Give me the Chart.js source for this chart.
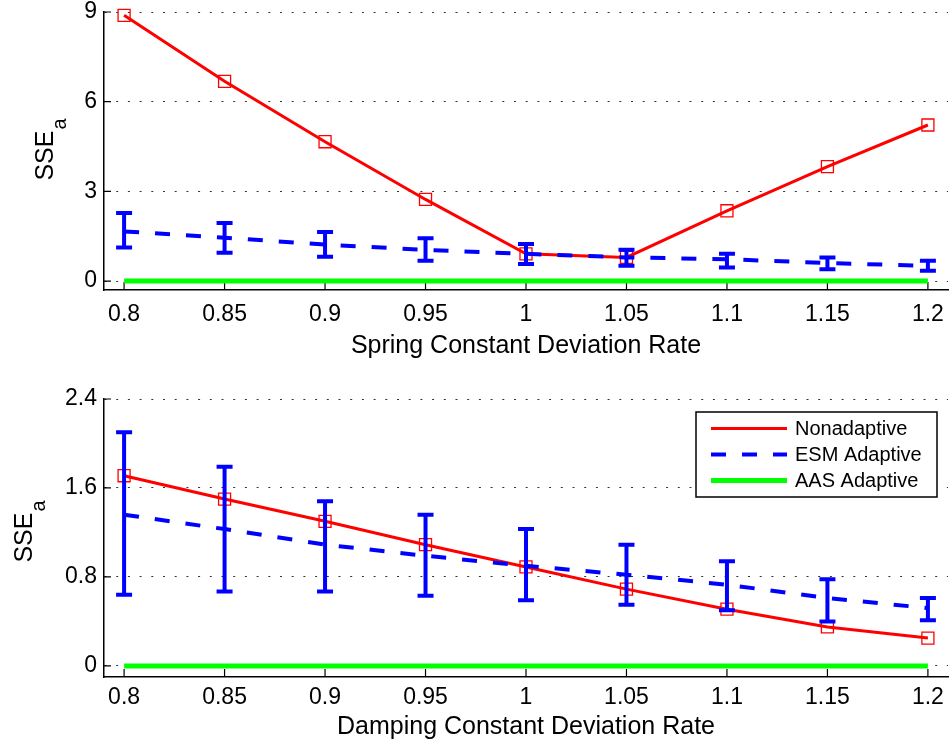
<!DOCTYPE html>
<html>
<head>
<meta charset="utf-8">
<script src="https://cdn.jsdelivr.net/npm/chart.js@4.4.1/dist/chart.umd.min.js"></script>
<style>
  html, body { margin: 0; padding: 0; background: #fff; }
  #wrap { position: relative; width: 952px; height: 749px; }
  .panel { position: absolute; left: 0; width: 952px; }
  #springPanel { top: 0; height: 374px; }
  #dampPanel { top: 374px; height: 375px; }
</style>
</head>
<body>
<div id="wrap">
  <div class="panel" id="springPanel"><canvas id="springChart" width="952" height="374"></canvas></div>
  <div class="panel" id="dampPanel"><canvas id="dampChart" width="952" height="375"></canvas></div>
</div>
<script>
const deviationRates = [0.8, 0.85, 0.9, 0.95, 1, 1.05, 1.1, 1.15, 1.2];

/* spring constant sweep */
const springNonadaptive = [8.89, 6.68, 4.66, 2.73, 0.91, 0.79, 2.35, 3.83, 5.22];
const springEsmMean = [1.66, 1.45, 1.22, 1.04, 0.91, 0.79, 0.73, 0.60, 0.51];
const springEsmUpper = [2.28, 1.94, 1.64, 1.43, 1.24, 1.05, 0.91, 0.79, 0.68];
const springEsmLower = [1.12, 0.95, 0.81, 0.68, 0.57, 0.51, 0.45, 0.39, 0.34];
const springAas = [0, 0, 0, 0, 0, 0, 0, 0, 0];
const springYTicks = [0, 3, 6, 9];

/* damping constant sweep */
const dampNonadaptive = [1.71, 1.50, 1.30, 1.09, 0.89, 0.69, 0.51, 0.35, 0.25];
const dampEsmMean = [1.36, 1.23, 1.09, 0.99, 0.90, 0.82, 0.73, 0.61, 0.52];
const dampEsmUpper = [2.10, 1.79, 1.48, 1.36, 1.23, 1.09, 0.94, 0.78, 0.61];
const dampEsmLower = [0.64, 0.67, 0.67, 0.63, 0.59, 0.55, 0.50, 0.40, 0.41];
const dampAas = [0, 0, 0, 0, 0, 0, 0, 0, 0];
const dampYTicks = [0, 0.8, 1.6, 2.4];

const seriesNames = ["Nonadaptive", "ESM Adaptive", "AAS Adaptive"];

const FONT = "'Liberation Sans', Arial, Helvetica, sans-serif";

function toPoints(ys) {
  return deviationRates.map((x, i) => ({ x: x, y: ys[i] }));
}

/* ---------------- PLUGINS ---------------- */

// vertical error bars with caps on the ESM series
function errorBarPlugin(upper, lower) {
  return {
    id: "errorBars",
    afterDatasetsDraw(chart) {
      const { ctx, scales } = chart;
      ctx.save();
      ctx.strokeStyle = "#0000ff";
      ctx.lineWidth = 4;
      upper.forEach((hi, i) => {
        const px = scales.x.getPixelForValue(deviationRates[i]);
        const top = scales.y.getPixelForValue(hi);
        const bot = scales.y.getPixelForValue(lower[i]);
        ctx.beginPath();
        ctx.moveTo(px, top);
        ctx.lineTo(px, bot);
        ctx.moveTo(px - 8, top);
        ctx.lineTo(px + 8, top);
        ctx.moveTo(px - 8, bot);
        ctx.lineTo(px + 8, bot);
        ctx.stroke();
      });
      ctx.restore();
    },
  };
}

// inward tick marks and the SSE_a axis title
function axisDecorPlugin(titleX, titleY) {
  return {
    id: "axisDecor",
    beforeDatasetsDraw(chart) {
      const { ctx, chartArea: a, scales } = chart;
      ctx.save();
      ctx.strokeStyle = "#000";
      ctx.lineWidth = 1.2;
      ctx.beginPath();
      scales.x.ticks.forEach((t) => {
        const px = scales.x.getPixelForValue(t.value);
        ctx.moveTo(px, a.bottom);
        ctx.lineTo(px, a.bottom - 8);
      });
      scales.y.ticks.forEach((t) => {
        const py = scales.y.getPixelForValue(t.value);
        ctx.moveTo(a.left, py);
        ctx.lineTo(a.left + 7, py);
      });
      ctx.stroke();
      ctx.restore();
    },
    afterDraw(chart) {
      const { ctx } = chart;
      ctx.save();
      ctx.fillStyle = "#000";
      ctx.textBaseline = "alphabetic";
      ctx.font = "25px " + FONT;
      const wMain = ctx.measureText("SSE").width;
      ctx.font = "20px " + FONT;
      const wSub = ctx.measureText("a").width;
      ctx.translate(titleX, titleY);
      ctx.rotate(-Math.PI / 2);
      const start = -(wMain + wSub) / 2;
      ctx.font = "25px " + FONT;
      ctx.fillText("SSE", start, 0);
      ctx.font = "20px " + FONT;
      ctx.fillText("a", start + wMain + 1, 13);
      ctx.restore();
    },
  };
}

const legendPlugin = {
  id: "legendBox",
  afterDraw(chart) {
    const { ctx } = chart;
    const box = { x: 696, y: 38, w: 241, h: 85 };
    ctx.save();
    ctx.fillStyle = "#fff";
    ctx.fillRect(box.x, box.y, box.w, box.h);
    ctx.strokeStyle = "#000";
    ctx.lineWidth = 1.5;
    ctx.strokeRect(box.x, box.y, box.w, box.h);
    chart.data.datasets.forEach((ds, i) => {
      const ly = box.y + 16.5 + i * 26;
      ctx.strokeStyle = ds.borderColor;
      ctx.lineWidth = ds.borderWidth;
      ctx.setLineDash(ds.borderDash || []);
      ctx.beginPath();
      ctx.moveTo(box.x + 15, ly);
      ctx.lineTo(box.x + 91, ly);
      ctx.stroke();
      ctx.setLineDash([]);
      ctx.fillStyle = "#000";
      ctx.font = "20px " + FONT;
      ctx.textBaseline = "middle";
      ctx.fillText(ds.label, box.x + 99, ly + 1);
    });
    ctx.restore();
  },
};

/* ---------------- CHARTS ---------------- */

function buildChart(id, cfg) {
  return new Chart(document.getElementById(id), {
    type: "line",
    data: {
      datasets: [
        {
          label: seriesNames[0],
          data: toPoints(cfg.nonadaptive),
          borderColor: "#ff0000",
          borderWidth: 3,
          pointStyle: "rect",
          pointRadius: 8.5,
          pointBorderColor: "#ff0000",
          pointBackgroundColor: "rgba(0,0,0,0)",
          pointBorderWidth: 1.3,
          clip: false,
          order: 1,
        },
        {
          label: seriesNames[1],
          data: toPoints(cfg.esmMean),
          borderColor: "#0000ff",
          borderWidth: 4,
          borderDash: [15, 16],
          pointRadius: 0,
          clip: false,
          order: 0,
        },
        {
          label: seriesNames[2],
          data: toPoints(cfg.aas),
          borderColor: "#00ff00",
          borderWidth: 5,
          pointRadius: 0,
          clip: false,
          order: 0,
        },
      ],
    },
    options: {
      responsive: false,
      animation: false,
      devicePixelRatio: 1,
      layout: {
        autoPadding: false,
        padding: { left: 0, right: 4, top: cfg.padTop, bottom: 0 },
      },
      plugins: { legend: { display: false }, tooltip: { enabled: false } },
      scales: {
        x: {
          type: "linear",
          min: 0.79,
          max: 1.21,
          afterBuildTicks: (s) => {
            s.ticks = deviationRates.map((v) => ({ value: v }));
          },
          afterFit: (s) => {
            s.height = cfg.xHeight;
            s.paddingLeft = 0;
            s.paddingRight = 0;
          },
          ticks: {
            color: "#000",
            font: { family: FONT, size: 23 },
            padding: cfg.xTickPad,
            maxRotation: 0,
            callback: (v) => String(v),
          },
          grid: { display: false, drawTicks: false },
          border: { display: true, color: "#000", width: 1.5 },
          title: {
            display: true,
            text: cfg.xTitle,
            color: "#000",
            font: { family: FONT, size: 25 },
            padding: { top: 0, bottom: cfg.xTitlePad },
          },
        },
        y: {
          min: cfg.yMin,
          max: cfg.yMax,
          afterBuildTicks: (s) => {
            s.ticks = cfg.yTicks.map((v) => ({ value: v }));
          },
          afterFit: (s) => {
            s.width = 104;
            s.paddingTop = 0;
            s.paddingBottom = 0;
          },
          ticks: {
            color: "#000",
            font: { family: FONT, size: 23 },
            padding: 7,
            callback: (v) => String(v),
          },
          grid: { display: true, color: "#333", lineWidth: 1, drawTicks: false },
          border: { display: true, color: "#000", width: 1.5, dash: [2, 9.7] },
        },
      },
    },
    plugins: cfg.plugins,
  });
}

const springChart = buildChart("springChart", {
  nonadaptive: springNonadaptive,
  esmMean: springEsmMean,
  aas: springAas,
  yMin: -0.3,
  yMax: 9,
  yTicks: springYTicks,
  padTop: 12,
  xHeight: 84,
  xTickPad: 11,
  xTitlePad: 13,
  xTitle: "Spring Constant Deviation Rate",
  plugins: [
    axisDecorPlugin(53, 150),
    errorBarPlugin(springEsmUpper, springEsmLower),
  ],
});

const dampChart = buildChart("dampChart", {
  nonadaptive: dampNonadaptive,
  esmMean: dampEsmMean,
  aas: dampAas,
  yMin: -0.1,
  yMax: 2.4,
  yTicks: dampYTicks,
  padTop: 25,
  xHeight: 72,
  xTickPad: 7,
  xTitlePad: 7,
  xTitle: "Damping Constant Deviation Rate",
  plugins: [
    axisDecorPlugin(32, 158),
    errorBarPlugin(dampEsmUpper, dampEsmLower),
    legendPlugin,
  ],
});
</script>
</body>
</html>
